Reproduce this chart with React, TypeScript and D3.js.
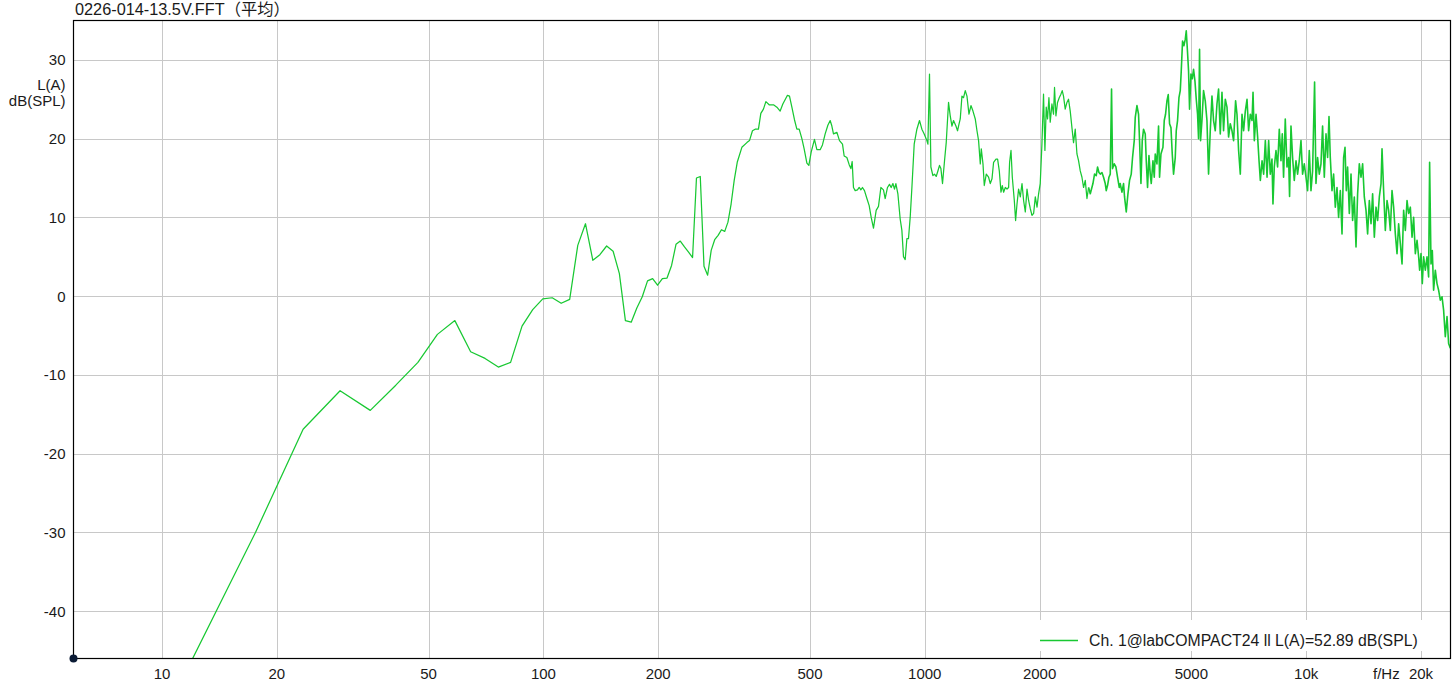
import React from "react";
import * as d3 from "d3";

const chartTitle = "0226-014-13.5V.FFT（平均）";
const yUnitLines = ["L(A)", "dB(SPL)"];
const legendLabel = "Ch. 1@labCOMPACT24 ll L(A)=52.89 dB(SPL)";
const xAxisName = "f/Hz";
const xTicks = [10, 20, 50, 100, 200, 500, 1000, 2000, 5000, 10000, 20000];
const xTickLabels = ["10", "20", "50", "100", "200", "500", "1000", "2000", "5000", "10k", "20k"];
const yTicks = [30, 20, 10, 0, -10, -20, -30, -40];
const freqDomain = [5.86, 23900];
const levelDomain = [-46, 35];

// [frequency Hz, level dB(SPL)]
const lowBand: [number, number][] = [
  [5.86, -55], [11.72, -47.1], [17.58, -30.0], [23.44, -16.9], [29.3, -12.0], [35.16, -14.5],
  [41.02, -11.3], [46.88, -8.4], [52.73, -4.85], [58.59, -3.1], [64.45, -7.05], [70.31, -7.9],
  [76.17, -9.0], [82.03, -8.4], [87.89, -3.8], [93.75, -1.7], [99.61, -0.34], [105.47, -0.2],
  [111.33, -0.9], [117.19, -0.4], [123.05, 6.45], [128.91, 9.2], [134.77, 4.56], [140.63, 5.27],
  [146.48, 6.37], [152.34, 5.7], [158.2, 2.87], [164.06, -3.1], [169.92, -3.3], [175.78, -1.5],
  [181.64, -0.08], [187.5, 1.94], [193.36, 2.23], [199.22, 1.39], [205.08, 2.23], [210.94, 2.3],
  [216.8, 3.9], [222.66, 6.58], [228.52, 7.0], [234.38, 6.25], [240.23, 5.6], [246.09, 4.9],
  [251.95, 15.0], [257.81, 15.2], [263.67, 3.8], [269.53, 2.66], [275.39, 5.82], [281.25, 7.17],
  [287.11, 7.72], [292.97, 8.44], [298.83, 8.23], [304.69, 9.4], [310.55, 11.7], [316.41, 14.7],
  [322.27, 17.0],
];

const midBand: [number, number][] = [
  [331.4, 18.9], [341.6, 19.5], [347.0, 19.75], [353.3, 21.0], [359.1, 21.2], [366.3, 21.2],
  [371.6, 23.2], [377.5, 23.75], [383.1, 24.7], [390.8, 24.3], [401.1, 24.3], [409.4, 24.0],
  [417.6, 23.5], [424.4, 24.4], [436.4, 25.5], [441.8, 25.4], [448.2, 24.0], [455.3, 22.4],
  [461.9, 21.2], [468.4, 21.2], [476.1, 20.0], [482.7, 18.7], [490.7, 16.9], [496.6, 16.6],
  [503.6, 18.3], [513.7, 19.9], [521.2, 18.6], [531.7, 18.6], [539.1, 19.2], [548.0, 20.6],
  [557.0, 21.7], [564.8, 22.3], [570.6, 21.6], [576.2, 20.6], [588.2, 20.8], [597.5, 19.75],
  [608.4, 19.3], [614.6, 17.8], [624.7, 17.6], [633.5, 16.7], [640.0, 16.2], [645.0, 17.1],
  [650.1, 13.8], [656.9, 13.4], [666.0, 13.5], [672.9, 13.8], [679.8, 13.5], [686.4, 13.8],
  [694.8, 13.4], [705.0, 12.4], [714.8, 11.5], [723.5, 10.0], [733.6, 8.65], [745.6, 10.9],
  [756.1, 11.4], [767.1, 13.8], [779.2, 13.5], [787.3, 12.4], [798.3, 13.8], [808.0, 14.2],
  [816.3, 13.8], [824.8, 14.3], [832.8, 13.6], [839.8, 14.3], [850.0, 13.0], [861.9, 9.8],
  [870.8, 8.35], [879.3, 5.0], [888.4, 4.65], [897.5, 7.3], [906.2, 7.3], [915.6, 10.0],
  [925.1, 13.8], [938.0, 19.3], [953.4, 21.2], [968.5, 22.3], [982.6, 21.2], [996.4, 20.6],
  [1012.8, 19.75], [1018.9, 19.3], [1028.8, 28.2], [1037.5, 16.4], [1050.1, 15.3], [1060.3, 15.5],
  [1071.3, 15.2], [1082.3, 15.9], [1092.9, 16.6], [1102.1, 16.2], [1112.9, 14.3], [1126.5, 17.2],
  [1138.1, 19.5], [1154.1, 24.6], [1166.0, 22.9], [1178.1, 21.6], [1189.5, 22.3], [1206.9, 21.6],
  [1218.6, 21.0], [1228.9, 21.8], [1238.6, 22.5], [1251.4, 25.4], [1263.6, 25.2], [1276.7, 26.1],
  [1289.9, 25.4], [1305.6, 23.1], [1321.4, 24.2], [1337.5, 23.5], [1356.2, 22.5], [1370.3, 21.0],
  [1383.6, 19.75], [1397.9, 16.8], [1406.4, 18.7], [1420.9, 16.8], [1432.1, 14.05], [1449.5, 15.5],
  [1469.8, 15.1], [1485.0, 14.3], [1500.3, 14.9], [1514.9, 17.0], [1537.1, 17.4], [1552.0, 17.4],
  [1568.0, 15.9], [1584.2, 13.2], [1596.7, 14.05], [1609.3, 13.2], [1625.9, 13.8], [1642.7, 13.6],
  [1658.7, 13.8], [1668.7, 17.0], [1682.8, 18.5], [1696.1, 15.1], [1716.7, 12.15], [1730.2, 9.6],
  [1744.9, 11.7], [1761.8, 13.6], [1780.0, 12.6], [1798.4, 14.3], [1815.8, 12.15], [1834.6, 10.7],
  [1853.5, 13.6], [1871.5, 12.15], [1890.8, 11.1], [1910.4, 10.25], [1928.9, 10.5], [1948.8, 12.6],
  [1969.0, 11.3], [1988.0, 13.0], [2007.5, 14.3], [2028.2, 19.3], [2047.9, 25.65], [2065.3, 18.5],
  [2081.6, 24.0], [2098.0, 22.5], [2115.8, 25.2], [2132.5, 22.1], [2154.4, 24.4], [2175.3, 23.1],
  [2188.5, 26.5], [2207.1, 22.9], [2228.5, 24.6], [2251.5, 25.2], [2274.7, 25.65], [2292.6, 26.1],
  [2310.6, 25.4], [2334.5, 23.75], [2358.7, 24.6], [2381.6, 25.0], [2406.2, 23.5], [2431.1, 21.4],
  [2454.8, 19.5], [2480.2, 21.2], [2505.8, 18.06], [2530.1, 17.2], [2556.3, 15.9], [2582.7, 15.1],
  [2607.8, 13.8], [2634.8, 14.7], [2662.0, 12.4], [2687.9, 13.8],
];

const highBand: [number, number][] = [
  [2715.7, 13.0], [2759.8, 14.3], [2786.6, 15.5], [2815.3, 15.3], [2837.5, 16.4], [2861.6, 15.7],
  [2884.8, 15.5], [2913.9, 15.7], [2942.2, 15.1], [2972.5, 14.3], [2990.5, 13.4], [3014.1, 14.05],
  [3039.7, 15.1], [3063.7, 15.5], [3087.8, 26.3], [3106.5, 16.2], [3138.5, 16.8], [3170.9, 16.4],
  [3201.7, 15.1], [3234.8, 13.8], [3254.4, 14.3], [3288.0, 13.2], [3319.9, 14.3], [3340.0, 12.6],
  [3374.5, 10.7], [3409.3, 13.0], [3442.4, 14.7], [3477.9, 15.5], [3505.3, 17.6], [3541.5, 19.75],
  [3563.0, 22.7], [3599.7, 24.2], [3634.6, 23.1], [3656.7, 19.75], [3687.7, 14.3], [3716.8, 19.75],
  [3746.1, 21.2], [3784.7, 20.6], [3807.7, 17.2], [3837.7, 13.8], [3870.3, 17.85], [3900.8, 15.5],
  [3924.4, 14.3], [3964.9, 17.2], [3996.1, 15.1], [4020.2, 18.06], [4061.7, 16.8], [4101.1, 21.6],
  [4126.0, 15.1], [4161.0, 18.06], [4211.5, 18.9], [4244.7, 22.3], [4278.2, 23.1], [4314.5, 24.8],
  [4348.5, 25.6], [4382.7, 21.9], [4420.0, 21.4], [4454.8, 18.06], [4489.9, 15.5], [4536.2, 17.6],
  [4563.7, 21.0], [4599.7, 22.3], [4638.7, 25.2], [4675.3, 26.1], [4703.6, 28.6], [4740.7, 32.4],
  [4780.9, 31.8], [4818.6, 32.6], [4847.8, 33.7], [4885.9, 30.9], [4915.6, 28.6], [4945.4, 23.75],
  [4987.3, 28.2], [5026.7, 27.6], [5066.2, 28.8], [5109.3, 27.3], [5149.6, 25.0], [5190.1, 23.1],
  [5221.5, 20.0], [5253.2, 31.35], [5285.1, 19.75], [5329.8, 22.3], [5381.4, 26.1], [5437.0, 24.8],
  [5493.1, 22.3], [5546.5, 15.5], [5603.9, 21.0], [5661.9, 25.4], [5716.8, 22.3], [5775.9, 21.0],
  [5835.6, 24.4], [5892.2, 26.3], [5953.1, 20.6], [6014.6, 25.9], [6073.0, 21.0], [6135.8, 25.0],
  [6199.2, 24.0], [6259.3, 20.2], [6324.0, 21.9], [6389.4, 21.0], [6451.6, 19.75], [6530.1, 24.8],
  [6585.6, 23.1], [6649.6, 18.5], [6718.3, 15.5], [6787.7, 23.1], [6853.7, 21.0], [6924.6, 23.5],
  [6996.2, 25.0], [7064.2, 21.0], [7137.3, 23.1], [7211.0, 22.3], [7254.7, 25.9], [7311.9, 19.75],
  [7387.5, 23.1], [7459.5, 20.2], [7522.8, 17.2], [7582.1, 14.7], [7660.5, 17.2], [7735.0, 15.5],
  [7814.9, 19.75], [7895.7, 15.1], [7972.6, 19.75],
];

const topBand: [number, number][] = [
  [8051, 15.5], [8134, 17.4], [8183, 11.7], [8248, 16.4], [8333, 18.5], [8414, 16.4],
  [8501, 21.2], [8588, 17.2], [8656, 20.6], [8724, 15.1], [8814, 22.5], [8905, 16.4],
  [8992, 17.6], [9046, 12.65], [9123, 21.6], [9212, 17.6], [9307, 14.7], [9403, 17.2],
  [9494, 15.5], [9592, 17.2], [9691, 19.75], [9785, 15.5], [9886, 16.8], [9988, 15.1],
  [10085, 13.4], [10189, 18.5], [10294, 13.4], [10394, 15.9], [10520, 27.2], [10609, 14.3],
  [10713, 17.6], [10823, 15.5], [10935, 16.8], [11041, 21.6], [11156, 15.1], [11271, 20.6],
  [11380, 17.6], [11477, 22.8], [11567, 17.6], [11687, 13.4], [11800, 15.5], [11922, 11.3],
  [12045, 13.8], [12162, 10.0], [12288, 13.4], [12415, 7.9], [12536, 17.6], [12642, 18.9],
  [12741, 13.4], [12841, 16.4], [12974, 10.5], [13108, 15.5], [13235, 9.6], [13372, 12.6],
  [13510, 6.25], [13641, 13.0], [13782, 16.8], [13924, 15.1], [14060, 16.8], [14205, 12.6],
  [14351, 10.9], [14491, 7.9], [14640, 12.15], [14791, 9.2], [14935, 13.0], [15089, 7.5],
  [15245, 11.3], [15393, 9.6], [15552, 12.6], [15712, 14.3], [15807, 18.7], [15961, 13.4],
  [16126, 8.35], [16292, 12.15], [16450, 10.9], [16620, 8.35], [16791, 13.4], [16955, 11.3],
  [17130, 7.9], [17306, 5.4], [17474, 9.2], [17655, 6.67], [17837, 4.1], [18010, 10.9],
  [18196, 8.35], [18384, 12.15], [18562, 10.5], [18754, 11.3], [18947, 7.5], [19131, 10.0],
  [19329, 5.4], [19528, 7.1], [19718, 5.0], [19837, 3.3], [20002, 5.4], [20160, 1.6],
  [20319, 5.0], [20529, 3.3], [20740, 5.0], [20942, 2.45], [21069, 17.0], [21247, 4.1],
  [21415, 5.8], [21583, 0.76], [21806, 3.3], [22031, 1.6], [22245, 0.76], [22474, -0.5],
  [22707, -0.08], [22927, -1.77], [23163, -5.15], [23403, -2.6], [23630, -6.0], [23874, -6.6],
];

const W = 1452;
const H = 692;
const plot = { left: 73.5, right: 1450.5, top: 20.5, bottom: 658.5 };
const FONT = "'Liberation Sans', Arial, 'Noto Sans CJK SC', sans-serif";
const TEXT = "#1a1a1a";
const GREEN = "#18c832";

export default function App() {
  const x = d3.scaleLog().domain(freqDomain).range([plot.left, plot.right]);
  const y = d3.scaleLinear().domain(levelDomain).range([plot.bottom, plot.top]);
  const sparse = [...lowBand, ...midBand];
  const dense = [midBand[midBand.length - 1], ...highBand, ...topBand];
  const line = d3
    .line<[number, number]>()
    .x((d) => x(d[0]))
    .y((d) => y(d[1]));

  return (
    <svg
      width={W}
      height={H}
      style={{ position: "absolute", left: 0, top: 0, display: "block", background: "#fff" }}
      fontFamily={FONT}
    >
      <defs>
        <clipPath id="plotClip">
          <rect x={plot.left} y={plot.top} width={plot.right - plot.left} height={plot.bottom - plot.top} />
        </clipPath>
      </defs>
      <rect x={0} y={0} width={W} height={H} fill="#fff" />

      {/* grid */}
      {xTicks.map((t) => (
        <line
          key={"gx" + t}
          x1={Math.round(x(t)) + 0.5}
          x2={Math.round(x(t)) + 0.5}
          y1={plot.top}
          y2={plot.bottom}
          stroke="#c8c8c8"
          strokeWidth={1}
        />
      ))}
      {yTicks.map((t) => (
        <line
          key={"gy" + t}
          x1={plot.left}
          x2={plot.right}
          y1={Math.round(y(t)) + 0.5}
          y2={Math.round(y(t)) + 0.5}
          stroke="#c8c8c8"
          strokeWidth={1}
        />
      ))}

      {/* legend background */}
      <rect x={1032} y={620} width={418} height={31} fill="#fff" />

      {/* curve */}
      <g clipPath="url(#plotClip)" fill="none" stroke={GREEN} strokeLinejoin="round">
        <path d={line(sparse) || ""} strokeWidth={1.25} />
        <path d={line(dense) || ""} strokeWidth={1.6} />
      </g>

      {/* legend */}
      <line x1={1040} x2={1078} y1={640.5} y2={640.5} stroke={GREEN} strokeWidth={1.3} />
      <text x={1089} y={645.5} fontSize={15.8} fill={TEXT}>
        {legendLabel}
      </text>

      {/* frame */}
      <rect
        x={plot.left}
        y={plot.top}
        width={plot.right - plot.left}
        height={plot.bottom - plot.top}
        fill="none"
        stroke="#000"
        strokeWidth={1.2}
      />
      <circle cx={plot.left} cy={plot.bottom} r={4} fill="#0b1b35" />

      {/* y ticks */}
      {yTicks.map((t) => (
        <text key={"ty" + t} x={65.5} y={y(t) + 5.5} fontSize={15} textAnchor="end" fill={TEXT}>
          {t}
        </text>
      ))}
      {yUnitLines.map((s, i) => (
        <text key={s} x={65.5} y={90 + i * 15.5} fontSize={15} textAnchor="end" fill={TEXT}>
          {s}
        </text>
      ))}

      {/* x ticks */}
      {xTicks.map((t, i) => (
        <text key={"tx" + t} x={x(t)} y={678.5} fontSize={15} textAnchor="middle" fill={TEXT}>
          {xTickLabels[i]}
        </text>
      ))}
      <text x={1373} y={678.5} fontSize={15} fill={TEXT}>
        {xAxisName}
      </text>

      {/* title */}
      <text x={75} y={15} fontSize={16.3} fill={TEXT}>
        {chartTitle}
      </text>
    </svg>
  );
}
